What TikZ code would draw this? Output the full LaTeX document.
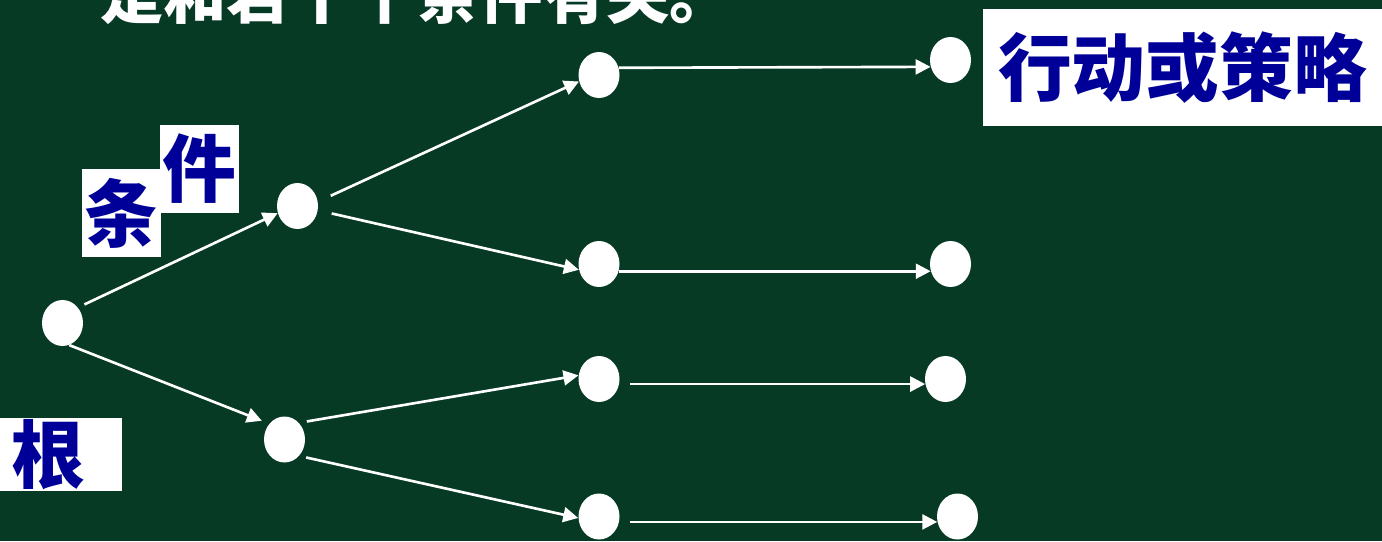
\documentclass[tikz,border=0pt]{standalone}
\usepackage{fontspec}
\newfontfamily\cjk{Noto Sans CJK SC}
\usetikzlibrary{shapes.geometric,arrows.meta}
\definecolor{boardgreen}{HTML}{073A24}
\definecolor{labelblue}{HTML}{000099}

\begin{document}
\begin{tikzpicture}[
  x=0.02cm, y=-0.02cm,
  treedot/.style={ellipse, fill=white, minimum width=0.82cm,
    minimum height=0.92cm, inner sep=0pt},
  labelbox/.style={rectangle, fill=white, text=labelblue, inner sep=0pt,
    font=\cjk\bfseries\fontsize{42}{44}\selectfont},
  titletext/.style={text=white, inner sep=0pt,
    font=\cjk\bfseries\fontsize{36}{38}\selectfont},
  arr/.style={-{Triangle[length=8.5pt,width=8.5pt]}, line width=1.5pt, draw=white},
]

% Board and frame
\useasboundingbox (0,0) rectangle (1382,541);
\clip (0,0) rectangle (1382,541);
\fill[boardgreen] (0,0) rectangle (1382,541);

% Horizontal positions
\def\xroot{62.5}
\def\xmid{599}

% ============================================================
% Title line (cut at the top edge)
% ============================================================
\node[titletext, anchor=base west] (title) at (100,18.5) {是和若干个条件有关。};

% ============================================================
% Tree nodes
% ============================================================
\node[treedot] (root) at (\xroot, 323) {};

\node[treedot] (n1) at (297.5, 206) {};
\node[treedot] (n2) at (284.5, 439.5) {};

\node[treedot] (m1) at (\xmid, 75) {};
\node[treedot] (m2) at (\xmid, 264) {};
\node[treedot] (m3) at (\xmid, 379) {};
\node[treedot] (m4) at (\xmid, 516.5) {};

\node[treedot] (t1) at (950.5, 60) {};
\node[treedot] (t2) at (950.5, 264) {};
\node[treedot] (t3) at (945.5, 379) {};
\node[treedot] (t4) at (957.5, 516.5) {};

\draw[arr, shorten <=4pt] (root.45) -- (n1.200);
\draw[arr, shorten >=4.5pt] (root.-73) -- (n2.134);

\draw[arr, shorten <=8pt] (n1.12) -- (m1.198);
\draw[arr, shorten <=8pt] (n1.-12) -- (m2.196);
\draw[arr, shorten <=4.5pt] (n2.49) -- (m3.170);
\draw[arr, shorten <=4pt] (n2.-48) -- (m4.184);

\draw[arr] (m1.20) -- (t1.199);
\draw[arr] (m2.-20) -- (t2.200);
\draw[arr, shorten <=6pt] (m3.-14) -- (t3.194);
\draw[arr, shorten <=6pt] (m4.-15) -- (t4.195);

% ============================================================
% Labels
% ============================================================
\node[labelbox, minimum width=1.58cm, minimum height=1.76cm] (tiao) at (121.5, 213) {条};
\node[labelbox, minimum width=1.58cm, minimum height=1.76cm] (jian) at (199.5, 169) {件};
\node[labelbox, anchor=north west, minimum height=1.46cm, text width=2.0cm,
  inner xsep=0.22cm, align=left] (gen) at (0, 418) {根};
\node[labelbox, minimum width=7.98cm, minimum height=2.34cm] (action) at (1182.5, 67.5) {行动或策略};

\end{tikzpicture}
\end{document}
